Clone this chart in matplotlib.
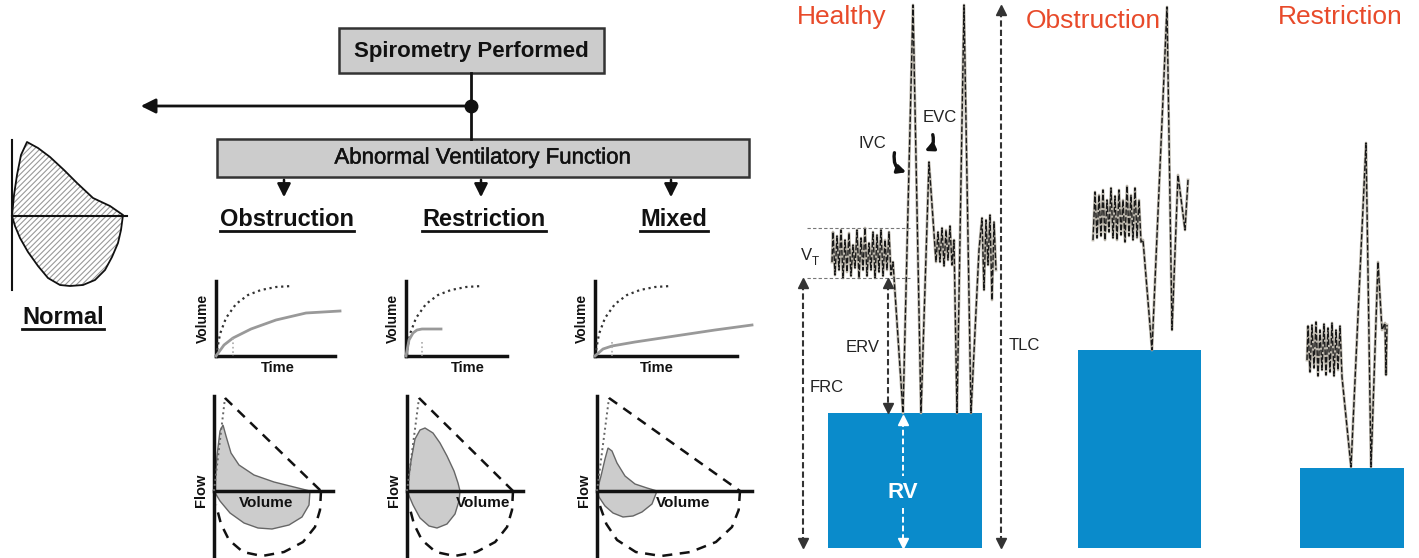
import numpy as np
import matplotlib.pyplot as plt
import matplotlib.patheffects as pe

plt.rcParams['font.family'] = ['Liberation Sans', 'DejaVu Sans']
plt.rcParams['hatch.linewidth'] = 0.8

# ---- flowchart text ----
top_box = 'Spirometry Performed'
mid_box = 'Abnormal Ventilatory Function'
headings = ['Obstruction', 'Restriction', 'Mixed']
heading_x = [287, 484, 674]
panel_titles = ['Healthy', 'Obstruction', 'Restriction']
panel_title_x = [842, 1093, 1340]

# ---- normal flow-volume loop (pixel coords) ----
normal_x = [12, 14, 17, 21, 27, 38, 50, 64, 77, 93, 110, 123, 121, 118, 112, 105, 95, 83, 70, 60, 48, 38, 28, 20, 15, 12]
normal_y = [216, 195, 175, 155, 142, 148, 157, 170, 183, 198, 206, 215, 230, 243, 257, 270, 280, 285, 286, 285, 278, 266, 252, 238, 226, 216]

# ---- volume-time small plots: origin x of each ----
vt_x0 = [216, 406, 595]
vt_xend = [350, 522, 752]
vt_dotted_x = [[0, 4, 10, 20, 32, 45, 60, 76]] * 3
vt_dotted_y = [[0, 22, 38, 52, 61, 66, 69, 70]] * 3
vt_solid_x = [[0, 8, 17, 35, 60, 90, 124],
              [0, 3, 7, 11, 16, 25, 35],
              [0, 8, 17, 40, 80, 120, 157]]
vt_solid_y = [[0, 11, 18, 27, 36, 43, 45],
              [0, 16, 23, 26, 27, 27, 27],
              [0, 7, 10, 14, 20, 26, 31]]
vt_fev1_x = [17, 16, 17]
vt_fev1_top = [18, 14, 14]

# ---- flow-volume loops ----
fv_x0 = [214, 407, 597]
fv_xend = [333, 523, 752]
fv_peak = [(11, -93), (12, -93), (12, -93)]
fv_tri_end = [107, 106, 143]
semi_dx = [0, -1, -6, -18, -37, -59, -78, -92, -100, -105]
semi_dy = [0, 19, 36, 51, 61, 65, 61, 49, 33, 14]
loop_exp_x = [[0, 3, 6, 9, 12, 17, 25, 40, 60, 80, 96],
              [0, 4, 8, 13, 18, 26, 33, 40, 47, 51, 53],
              [0, 4, 8, 11, 15, 20, 28, 38, 50, 60]]
loop_exp_y = [[0, -35, -60, -66, -55, -38, -26, -16, -9, -4, 0],
              [0, -30, -52, -61, -63, -58, -48, -35, -20, -8, 0],
              [0, -15, -32, -43, -40, -28, -15, -7, -3, 0]]
loop_insp_x = [[96, 95, 88, 75, 58, 44, 30, 16, 6, 0],
               [53, 52, 48, 40, 30, 22, 13, 6, 0],
               [60, 55, 45, 36, 26, 16, 8, 2, 0]]
loop_insp_y = [[0, 14, 26, 34, 38, 37, 32, 22, 10, 0],
               [0, 10, 23, 33, 37, 35, 27, 14, 0],
               [0, 13, 21, 25, 26, 22, 15, 6, 0]]

# ---- lung volume traces (right panel) ----
healthy_x = [832, 833, 835, 837, 839, 841, 843, 845, 847, 849, 851, 853, 855, 857, 859, 861, 863, 865, 867, 869,
             871, 873, 875, 877, 879, 881, 883, 885, 887, 889, 891, 893, 903, 913, 921, 929, 936, 938, 940, 942,
             944, 946, 948, 950, 952, 954, 957, 964, 971, 979, 982, 984, 986, 988, 990, 992, 994, 996]
healthy_y = [262, 232, 275, 236, 270, 230, 278, 240, 272, 233, 276, 245, 268, 230, 278, 238, 270, 228, 276, 243,
             270, 232, 278, 235, 272, 230, 276, 240, 270, 232, 275, 262, 413, 5, 413, 162, 262, 232, 262, 228,
             266, 230, 260, 226, 265, 240, 413, 5, 413, 250, 218, 290, 220, 265, 215, 300, 222, 270]
obstr_x = [1093, 1095, 1097, 1099, 1101, 1103, 1105, 1107, 1109, 1111, 1113, 1115, 1117, 1119, 1121, 1123, 1125,
           1127, 1129, 1131, 1133, 1135, 1137, 1139, 1141, 1143, 1152, 1167, 1172, 1178, 1185, 1188]
obstr_y = [240, 192, 238, 195, 236, 190, 240, 200, 232, 188, 238, 196, 240, 190, 235, 200, 242, 186, 236, 195,
           240, 188, 238, 200, 242, 240, 350, 7, 330, 175, 230, 180]
restr_x = [1307, 1308, 1310, 1312, 1314, 1316, 1318, 1320, 1322, 1324, 1326, 1328, 1330, 1332, 1334, 1336, 1338,
           1340, 1342, 1351, 1366, 1371, 1378, 1382, 1385, 1386, 1387]
restr_y = [360, 326, 372, 325, 368, 322, 376, 330, 370, 324, 375, 328, 372, 323, 376, 330, 370, 326, 377, 467,
           143, 467, 262, 330, 323, 375, 325]
# residual volume blocks: x left, x right, top
rv_left = [828, 1078, 1300]
rv_right = [982, 1201, 1404]
rv_top = [413, 350, 468]
rv_bottom = 548

fig = plt.figure(figsize=(14.19, 5.58), dpi=100)
ax = fig.add_axes([0, 0, 1, 1])
ax.set_xlim(0, 1419)
ax.set_ylim(558, 0)
ax.axis('off')

K = '#111111'
GRAY = '#cccccc'

# ---------------- flowchart ----------------
ax.add_patch(plt.Rectangle((339, 28), 265, 45, facecolor=GRAY, edgecolor='#333', lw=1.8))
ax.text(471, 51, top_box, ha='center', va='center', fontsize=16, fontweight='bold', color=K)
ax.add_patch(plt.Rectangle((217, 139), 532, 38, facecolor=GRAY, edgecolor='#333', lw=1.8))
ax.text(483, 158, mid_box, ha='center', va='center', fontsize=16, color=K,
        path_effects=[pe.withStroke(linewidth=0.35, foreground=K)])
ax.plot([471, 471], [73, 139], color=K, lw=2)
ax.plot(471, 106, 'o', color=K, ms=9)
ax.annotate('', xy=(138, 106), xytext=(471, 106),
            arrowprops=dict(arrowstyle='-|>', color=K, lw=2, mutation_scale=22))
for hx, h in zip(heading_x, headings):
    ax.annotate('', xy=(hx - 3, 200), xytext=(hx - 3, 177),
                arrowprops=dict(arrowstyle='-|>', color=K, lw=1.8, mutation_scale=20))
    ax.text(hx, 219, h, ha='center', va='center', fontsize=17, fontweight='bold', color=K)
w_obs = [134, 124, 68]
for hx, w in zip(heading_x, w_obs):
    ax.plot([hx - w / 2, hx + w / 2], [231, 231], color=K, lw=2)

# normal loop
ax.fill(normal_x, normal_y, facecolor='white', edgecolor='#999', hatch='//////', lw=0)
ax.plot(normal_x, normal_y, color=K, lw=1.3)
ax.plot([12, 12], [140, 290], color=K, lw=1.5)
ax.plot([12, 127], [216, 216], color=K, lw=1.5)
ax.text(63, 317, 'Normal', ha='center', va='center', fontsize=17, fontweight='bold', color=K)
ax.plot([22, 104], [329, 329], color=K, lw=2)

# volume-time plots
for i in range(3):
    x0, y0 = vt_x0[i], 356
    ax.plot([x0, x0], [281, y0], color=K, lw=2.5)
    ax.plot([x0, vt_xend[i] - 15], [y0, y0], color=K, lw=2.5)
    ax.plot(x0 + np.array(vt_dotted_x[i]), y0 - np.array(vt_dotted_y[i]), color='#333', lw=1.6, ls=':')
    ax.plot(x0 + np.array(vt_solid_x[i]), y0 - np.array(vt_solid_y[i]), color='#999', lw=2)
    fx = x0 + vt_fev1_x[i]
    ax.plot([fx, fx], [y0 - vt_fev1_top[i], y0], color='#aaa', lw=1.2, ls=':')
    ax.text(x0 - 13, 318, 'Volume', rotation=90, ha='center', va='center', fontsize=10, fontweight='bold', color=K)
    ax.text(x0 + 62, 368, 'Time', ha='center', va='center', fontsize=10.5, fontweight='bold', color=K)

# flow-volume loops
for i in range(3):
    x0, y0 = fv_x0[i], 491
    px, py = x0 + fv_peak[i][0], y0 + fv_peak[i][1]
    ex = np.concatenate([x0 + np.array(loop_exp_x[i]), x0 + np.array(loop_insp_x[i])])
    ey = np.concatenate([y0 + np.array(loop_exp_y[i]), y0 + np.array(loop_insp_y[i])])
    ax.fill(ex, ey, facecolor=GRAY, edgecolor='#666', lw=1)
    ax.plot([x0, x0], [396, 558], color=K, lw=2.5)
    ax.plot([x0, fv_xend[i]], [y0, y0], color=K, lw=2.5)
    ax.plot([x0, px], [y0, py], color='#666', lw=1.4, ls=':')
    te = x0 + fv_tri_end[i]
    ax.plot([px, te], [py, y0], color=K, lw=1.8, ls=(0, (4, 3)))
    sc = np.array(semi_dx) * (fv_tri_end[i] / 107.0)
    ax.plot(te + sc, y0 + np.array(semi_dy), color=K, lw=1.8, ls=(0, (4, 3)))
    ax.text(x0 - 13, 490, 'Flow', rotation=90, ha='center', va='center', fontsize=10.5, fontweight='bold', color=K)
vol_lbl_x = [266, 483, 683]
for vx in vol_lbl_x:
    ax.text(vx, 503, 'Volume', ha='center', va='center', fontsize=11, fontweight='bold', color=K)

# ---------------- right panel ----------------
RED = '#e84a2a'
BLUE = '#0a8bcb'
for tx, t, ty in zip(panel_title_x, panel_titles, [17, 21, 17]):
    ax.text(tx, ty, t, ha='center', va='center', fontsize=19, color=RED)
for l, r, tp in zip(rv_left, rv_right, rv_top):
    ax.add_patch(plt.Rectangle((l, tp), r - l, rv_bottom - tp, facecolor=BLUE, edgecolor='none'))

for xs, ys in [(healthy_x, healthy_y), (obstr_x, obstr_y), (restr_x, restr_y)]:
    ax.plot(xs, ys, color='#bdb8ad', lw=2.0)
    ax.plot(xs, ys, color='#1a1a1a', lw=1.0, ls=(0, (4, 1.5)))

# VT reference lines
ax.plot([807, 910], [228, 228], color='#777', lw=0.8, ls=(0, (3, 2)))
ax.plot([807, 910], [278, 278], color='#777', lw=0.8, ls=(0, (3, 2)))
ax.text(806, 256, 'V', ha='center', va='center', fontsize=12, color='#222')
ax.text(815, 262, 'T', ha='center', va='center', fontsize=8.5, color='#222')

# double headed dashed arrows
def darrow(x, y1, y2, c, lw=1.5, gap=None):
    if gap is None:
        ax.plot([x, x], [y1 + 6, y2 - 6], color=c, lw=lw, ls=(0, (3, 1.5)))
    else:
        ax.plot([x, x], [y1 + 6, gap[0]], color=c, lw=lw, ls=(0, (3, 1.5)))
        ax.plot([x, x], [gap[1], y2 - 6], color=c, lw=lw, ls=(0, (3, 1.5)))
    ax.plot(x, y1 + 5, marker='^', color=c, ms=7)
    ax.plot(x, y2 - 5, marker='v', color=c, ms=7)

darrow(803, 278, 548, '#333')
darrow(888, 278, 413, '#333')
darrow(1001, 5, 548, '#333')
darrow(903, 415, 548, 'white', lw=1.4, gap=(476, 508))

ax.text(827, 387, 'FRC', ha='center', va='center', fontsize=12, color='#222')
ax.text(863, 347, 'ERV', ha='center', va='center', fontsize=12, color='#222')
ax.text(1024, 345, 'TLC', ha='center', va='center', fontsize=12, color='#222')
ax.text(903, 492, 'RV', ha='center', va='center', fontsize=16, fontweight='bold', color='white')
ax.text(872, 143, 'IVC', ha='center', va='center', fontsize=12, color='#222')
ax.text(940, 117, 'EVC', ha='center', va='center', fontsize=12, color='#222')
ax.annotate('', xy=(909, 173), xytext=(895, 150),
            arrowprops=dict(arrowstyle='-|>', color=K, lw=2.4, mutation_scale=12,
                            connectionstyle='arc3,rad=0.5'))
ax.annotate('', xy=(922, 152), xytext=(932, 132),
            arrowprops=dict(arrowstyle='-|>', color=K, lw=2.4, mutation_scale=12,
                            connectionstyle='arc3,rad=-0.5'))

fig.savefig('out.png', dpi=100)
